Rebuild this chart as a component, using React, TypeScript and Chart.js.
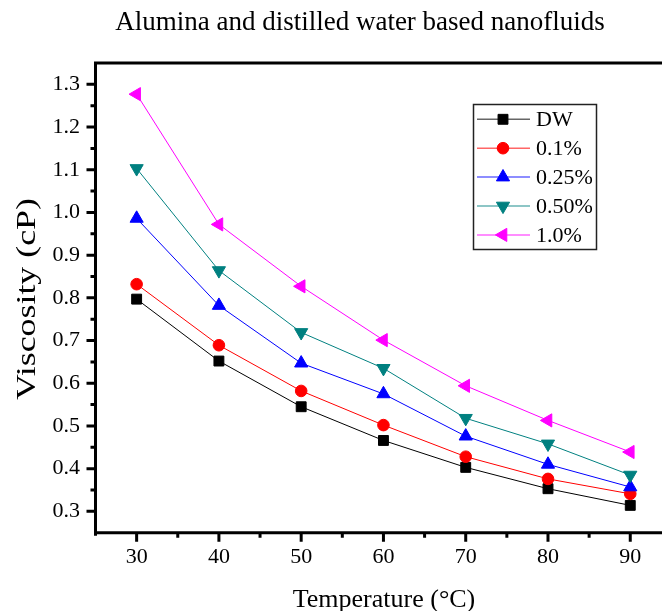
import React, { useEffect, useRef } from 'react';
import { Chart, registerables } from 'chart.js';
import { drawPoint } from 'chart.js/helpers';

Chart.register(...registerables);

// Viscosity (cP) of alumina / distilled-water nanofluids versus temperature (°C)
const temperatures = [30, 40, 50, 60, 70, 80, 90];
const seriesNames = ['DW', '0.1%', '0.25%', '0.50%', '1.0%'];
const viscosityDW = [0.797, 0.652, 0.545, 0.466, 0.403, 0.353, 0.314];
const viscosity01 = [0.832, 0.689, 0.582, 0.502, 0.428, 0.376, 0.341];
const viscosity025 = [0.986, 0.782, 0.647, 0.575, 0.476, 0.41, 0.357];
const viscosity050 = [1.103, 0.864, 0.719, 0.635, 0.518, 0.458, 0.385];
const viscosity10 = [1.277, 0.972, 0.827, 0.701, 0.594, 0.513, 0.439];

const xMajorTicks = [30, 40, 50, 60, 70, 80, 90];
const xMinorTicks = [35, 45, 55, 65, 75, 85, 95];
const yMajorTicks = [0.3, 0.4, 0.5, 0.6, 0.7, 0.8, 0.9, 1.0, 1.1, 1.2, 1.3];
const yMinorTicks = [0.35, 0.45, 0.55, 0.65, 0.75, 0.85, 0.95, 1.05, 1.15, 1.25];

const chartTitle = 'Alumina and distilled water based nanofluids';
const xTitle = 'Temperature (°C)';
const yTitle = 'Viscosity (cP)';

const SERIF = '"Liberation Serif", "Times New Roman", serif';

const seriesValues = [viscosityDW, viscosity01, viscosity025, viscosity050, viscosity10];
const seriesColors = ['#000000', '#FF0000', '#0000FF', '#008080', '#FF00FF'];
const seriesMarkers = [
  { pointStyle: 'rect', radius: 7, rotation: 0 },
  { pointStyle: 'circle', radius: 5.8, rotation: 0 },
  { pointStyle: 'triangle', radius: 7.6, rotation: 0 },
  { pointStyle: 'triangle', radius: 7.6, rotation: 180 },
  { pointStyle: 'triangle', radius: 7.6, rotation: 270 },
];

// Axes, frame, tick marks and text drawn on top of the chart
const decorPlugin = {
  id: 'decor',
  afterDraw(chart: any) {
    const { ctx, chartArea: a, scales } = chart;
    const x = scales.x;
    const y = scales.y;
    ctx.save();
    ctx.strokeStyle = '#000';
    ctx.lineCap = 'butt';

    // frame: left axis, bottom axis, top line (right side runs off the canvas)
    ctx.lineWidth = 3;
    ctx.beginPath();
    ctx.moveTo(a.left, a.top - 1.5);
    ctx.lineTo(a.left, a.bottom + 3);
    ctx.moveTo(a.left - 1.5, a.top);
    ctx.lineTo(chart.width, a.top);
    ctx.moveTo(a.left - 1.5, a.bottom);
    ctx.lineTo(chart.width, a.bottom);
    ctx.stroke();

    // tick marks (outside)
    ctx.lineWidth = 3;
    ctx.beginPath();
    xMajorTicks.forEach((v) => {
      const px = x.getPixelForValue(v);
      ctx.moveTo(px, a.bottom);
      ctx.lineTo(px, a.bottom + 9);
    });
    xMinorTicks.forEach((v) => {
      const px = x.getPixelForValue(v);
      ctx.moveTo(px, a.bottom);
      ctx.lineTo(px, a.bottom + 5);
    });
    yMajorTicks.forEach((v) => {
      const py = y.getPixelForValue(v);
      ctx.moveTo(a.left, py);
      ctx.lineTo(a.left - 9, py);
    });
    yMinorTicks.forEach((v) => {
      const py = y.getPixelForValue(v);
      ctx.moveTo(a.left, py);
      ctx.lineTo(a.left - 5, py);
    });
    ctx.stroke();

    // chart title
    ctx.fillStyle = '#000';
    ctx.textAlign = 'center';
    ctx.textBaseline = 'alphabetic';
    ctx.font = `27px ${SERIF}`;
    ctx.fillText(chartTitle, 360, 29.5);

    // x axis title
    ctx.font = `26px ${SERIF}`;
    ctx.fillText(xTitle, 384, 606.5);

    // y axis title (rotated, stretched along its length)
    ctx.save();
    ctx.translate(27.5, 299);
    ctx.rotate(-Math.PI / 2);
    ctx.font = `28px ${SERIF}`;
    const w = ctx.measureText(yTitle).width;
    ctx.scale(202 / w, 1);
    ctx.textBaseline = 'middle';
    ctx.fillText(yTitle, 0, 0);
    ctx.restore();

    // legend
    const boxL = 473.5;
    const boxT = 104.5;
    const boxW = 123;
    const boxH = 145;
    ctx.fillStyle = '#fff';
    ctx.fillRect(boxL, boxT, boxW, boxH);
    ctx.strokeStyle = '#222';
    ctx.lineWidth = 1.5;
    ctx.strokeRect(boxL, boxT, boxW, boxH);
    ctx.font = `22px ${SERIF}`;
    ctx.textAlign = 'left';
    ctx.textBaseline = 'middle';
    seriesNames.forEach((name, i) => {
      const ry = 119.3 + i * 28.9;
      const color = seriesColors[i];
      ctx.save();
      ctx.globalAlpha = 0.6;
      ctx.strokeStyle = color;
      ctx.lineWidth = 1.5;
      ctx.beginPath();
      ctx.moveTo(477, ry);
      ctx.lineTo(530, ry);
      ctx.stroke();
      ctx.restore();
      const m = seriesMarkers[i];
      ctx.fillStyle = color;
      ctx.strokeStyle = color;
      ctx.lineWidth = 1;
      drawPoint(ctx, { pointStyle: m.pointStyle as any, radius: m.radius, rotation: m.rotation, borderWidth: 1 }, 503, ry);
      ctx.fillStyle = '#000';
      ctx.fillText(name, 536, ry + 1);
    });

    ctx.restore();
  },
};

export default function App() {
  const canvasRef = useRef<HTMLCanvasElement | null>(null);

  useEffect(() => {
    const canvas = canvasRef.current;
    if (!canvas) return;

    const datasets = seriesNames.map((name, i) => ({
      label: name,
      data: temperatures.map((t, j) => ({ x: t, y: seriesValues[i][j] })),
      borderColor: seriesColors[i],
      backgroundColor: seriesColors[i],
      borderWidth: 1,
      pointStyle: seriesMarkers[i].pointStyle as any,
      pointRadius: seriesMarkers[i].radius,
      pointRotation: seriesMarkers[i].rotation,
      pointBorderWidth: 1,
      pointBackgroundColor: seriesColors[i],
      pointBorderColor: seriesColors[i],
      tension: 0,
      order: seriesNames.length - i,
    }));

    const chart = new Chart(canvas, {
      type: 'line',
      data: { datasets },
      options: {
        responsive: false,
        animation: false,
        devicePixelRatio: 1,
        clip: false,
        layout: { padding: { left: 0, right: 8.6, top: 63, bottom: 0 } },
        plugins: {
          legend: { display: false },
          title: { display: false },
          tooltip: { enabled: false },
        },
        scales: {
          x: {
            type: 'linear',
            min: 25,
            max: 95,
            grid: { display: false, drawTicks: false },
            border: { display: false },
            afterBuildTicks: (scale: any) => {
              scale.ticks = xMajorTicks.map((v) => ({ value: v }));
            },
            afterFit: (scale: any) => {
              scale.height = 78.3;
            },
            ticks: {
              padding: 11,
              color: '#000',
              font: { family: SERIF, size: 22 },
              maxRotation: 0,
              autoSkip: false,
              callback: (v: any) => String(v),
            },
          },
          y: {
            type: 'linear',
            min: 0.25,
            max: 1.35,
            grid: { display: false, drawTicks: false },
            border: { display: false },
            afterBuildTicks: (scale: any) => {
              scale.ticks = yMajorTicks.map((v) => ({ value: v }));
            },
            afterFit: (scale: any) => {
              scale.width = 95.5;
            },
            ticks: {
              padding: 15.5,
              color: '#000',
              font: { family: SERIF, size: 22 },
              autoSkip: false,
              callback: (v: any) => Number(v).toFixed(1),
            },
          },
        },
      },
      plugins: [decorPlugin],
    });

    return () => chart.destroy();
  }, []);

  return (
    <div
      style={{
        position: 'absolute',
        left: 0,
        top: 0,
        width: 662,
        height: 611,
        overflow: 'hidden',
        background: '#fff',
      }}
    >
      <canvas ref={canvasRef} width={680} height={611} style={{ display: 'block' }} />
    </div>
  );
}
